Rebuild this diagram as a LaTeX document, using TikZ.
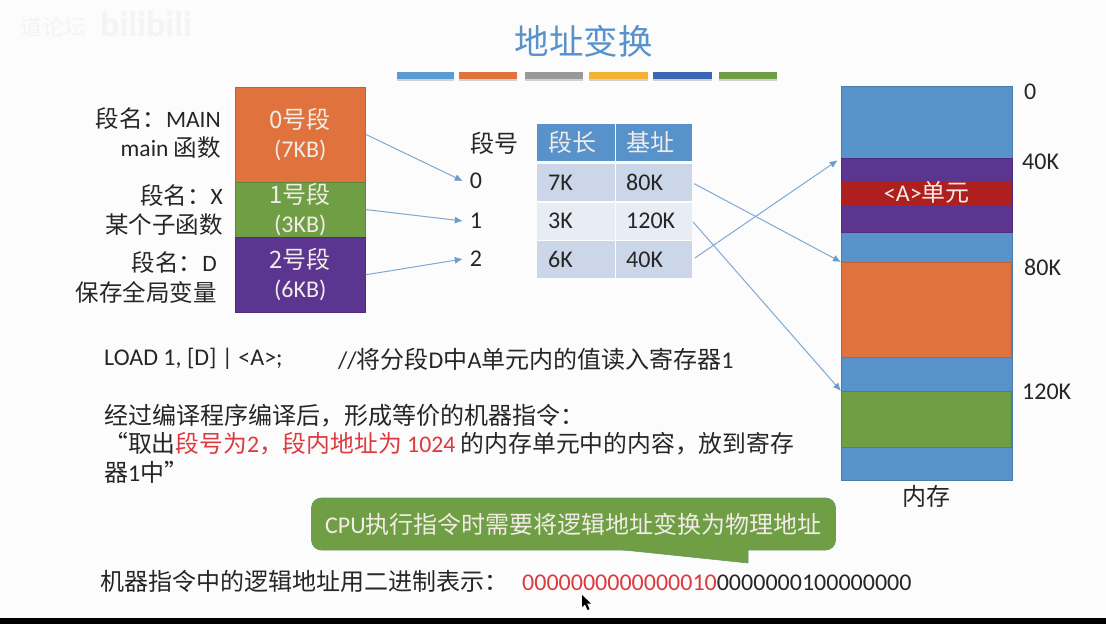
\documentclass[tikz,border=0pt]{standalone}
\usepackage{fontspec}
\setmainfont[Numbers=Lining]{Carlito}
\newfontfamily\cjk{Noto Sans CJK SC}
\newcommand\zh[1]{{\cjk #1}}
\definecolor{cblue}{HTML}{5792CA}
\definecolor{corange}{HTML}{E0733D}
\definecolor{cgreen}{HTML}{6F9E45}
\definecolor{cpurple}{HTML}{5C3590}
\definecolor{cred}{HTML}{AE1F1D}
\definecolor{ink}{HTML}{262626}
\definecolor{redink}{HTML}{DC3A3F}
\definecolor{pale}{HTML}{F2ECE8}
\definecolor{arrowc}{HTML}{7FA9D3}
\definecolor{rowa}{HTML}{CBD6E8}
\definecolor{rowb}{HTML}{E7ECF5}
\definecolor{wmark}{HTML}{F4F4F4}
\tikzset{
  txt/.style={inner sep=0pt,text=ink,font=\fontsize{24}{28}\selectfont},
  side/.style={inner sep=0pt,text=ink,anchor=east,font=\fontsize{23.5}{28}\selectfont},
  block/.style={rectangle,inner sep=0pt,draw=#1!85!black,line width=.6pt,fill=#1,text=pale,align=center,font=\fontsize{24}{29}\selectfont},
  cell/.style={rectangle,inner sep=0pt,fill=#1,text=ink,minimum height=37pt,text width=56pt,align=left,font=\fontsize{24}{28}\selectfont},
  conn/.style={draw=arrowc,line width=1pt,-{Latex[length=8pt,width=7pt,color=cblue!90]}},
}
\usetikzlibrary{arrows.meta}
\begin{document}
\begin{tikzpicture}[x=1pt,y=-1pt]
\useasboundingbox (0,0) rectangle (1106,624);
\fill[white!99!black] (0,0) rectangle (1106,624);
% watermark
\node[inner sep=0pt,anchor=east,text=wmark,font=\fontsize{22}{26}\cjk] (wm1) at (87,27) {道论坛};
\node[inner sep=0pt,anchor=west,text=wmark,font=\fontsize{36}{40}\selectfont\bfseries] (wm2) at (100,24) {bilibili};
% title and bars
\node[inner sep=0pt,text=cblue,font=\fontsize{34.5}{40}\cjk] (title) at (583.5,41) {地址变换};
\foreach \xa/\xb/\col in {397/454/5B9BD5,459/517/E0733D,525/583/999999,589/648/F5B335,653/712/3A66B4,719/777/6F9E45}{
  \fill[black!18] (\xa,73.5) rectangle (\xb,80.5);
  \definecolor{tmpc}{HTML}{\col}
  \fill[tmpc] (\xa,72) rectangle (\xb,79);
}
% segments
\node[block=corange,minimum width=130pt,minimum height=95pt,anchor=north west] (seg0) at (235,86.5) {\zh{0号段}\\(7KB)};
\node[block=cgreen,minimum width=130pt,minimum height=55.5pt,anchor=north west] (seg1) at (235,181.5) {\zh{1号段}\\(3KB)};
\node[block=cpurple,minimum width=130pt,minimum height=75pt,anchor=north west] (seg2) at (235,237) {\zh{2号段}\\(6KB)};
% segment labels
\node[side] (l0a) at (221,119) {\zh{段名：}MAIN};
\node[side] (l0b) at (221,148) {main \zh{函数}};
\node[side] (l1a) at (223,196) {\zh{段名：}X};
\node[side] (l1b) at (223,225) {\zh{某个子函数}};
\node[side] (l2a) at (217,263) {\zh{段名：}D};
\node[side] (l2b) at (217,292) {\zh{保存全局变量}};
% segment numbers
\node[txt,font=\fontsize{24}{28}\cjk] (hdr) at (494,143) {段号};
\node[txt,minimum width=26pt] (n0) at (476,181) {0};
\node[txt,minimum width=26pt] (n1) at (476,221) {1};
\node[txt,minimum width=26pt] (n2) at (476,259) {2};
% table
\node[cell=cblue,minimum width=78pt,anchor=north west,text=pale,font=\fontsize{24}{28}\cjk,minimum height=36.5pt] (h1) at (537,124) {段长};
\node[cell=cblue,minimum width=76pt,anchor=north west,text=pale,font=\fontsize{24}{28}\cjk,minimum height=36.5pt] (h2) at (616,124) {基址};
\node[cell=rowa,minimum width=78pt,anchor=north west] (c01) at (537,164) {7K};
\node[cell=rowa,minimum width=76pt,anchor=north west] (c02) at (616,164) {80K};
\node[cell=rowb,minimum width=78pt,anchor=north west] (c11) at (537,202.5) {3K};
\node[cell=rowb,minimum width=76pt,anchor=north west] (c12) at (616,202.5) {120K};
\node[cell=rowa,minimum width=78pt,anchor=north west] (c21) at (537,241) {6K};
\node[cell=rowa,minimum width=76pt,anchor=north west] (c22) at (616,241) {40K};
% memory
\node[block=cblue,minimum width=171pt,minimum height=394pt,anchor=north west] (mem) at (841,86) {};
\node[block=cpurple,minimum width=171pt,minimum height=74pt,anchor=north west] (mpur) at (841,158) {};
\node[block=cred,draw=none,minimum width=171pt,minimum height=24pt,anchor=north west] (munit) at (841,180.5) {<A>\zh{单元}};
\node[block=corange,minimum width=170pt,minimum height=95pt,anchor=north west] (mora) at (841,262) {};
\node[block=cgreen,minimum width=170pt,minimum height=55.5pt,anchor=north west] (mgre) at (841,391) {};
\node[txt] (ml) at (926,496) {\zh{内存}};
\node[txt,anchor=west] (a0) at (1024,92) {0};
\node[txt,anchor=west] (a40) at (1022,162) {40K};
\node[txt,anchor=west] (a80) at (1024,267) {80K};
\node[txt,anchor=west] (a120) at (1022,392) {120K};
% connectors
\draw[conn] (seg0.east) -- (n0.west);
\draw[conn] (seg1.east) -- (n1.west);
\draw[conn] (seg2.east) -- (n2.west);
\draw[conn,shorten <=2pt] (c02.east) -- (mora.north west);
\draw[conn,shorten <=1pt] (c12.east) -- (mgre.north west);
\draw[conn,shorten <=3pt,shorten >=4pt] (c22.east) -- (mpur.north west);
% body text
\node[txt,anchor=west] (t1) at (104,359) {LOAD 1, [D] | <A>;};
\node[txt,anchor=west] (t2) at (338,359) {//\zh{将分段}D\zh{中}A\zh{单元内的值读入寄存器}1};
\node[txt,anchor=west] (t3) at (104,416) {\zh{经过编译程序编译后，形成等价的机器指令：}};
\node[txt,anchor=west,font=\fontsize{23.8}{28}\selectfont] (t4) at (104,444) {\zh{“取出}\textcolor{redink}{\zh{段号为}2\zh{，段内地址为} 1024} \zh{的内存单元中的内容，放到寄存}};
\node[txt,anchor=west] (t5) at (104,472) {\zh{器}1\zh{中”}};
% callout
\coordinate (tipa) at (619,549.5);
\coordinate (tipb) at (748,563);
\coordinate (tipc) at (748,549.5);
\node[rectangle,rounded corners=10pt,fill=cgreen,draw=cgreen!75!cblue,line width=.8pt,minimum width=524pt,minimum height=52pt,inner sep=0pt,text=pale,font=\fontsize{24}{28}\selectfont] (callout) at (573.5,524) {CPU\zh{执行指令时需要将逻辑地址变换为物理地址}\hspace{7pt}};
\fill[cgreen] (tipa) -- (tipb) -- (tipc) -- cycle;
\draw[cgreen!75!cblue,line width=.6pt] (tipa) -- (tipb) -- (tipc);
% bottom line
\node[txt,anchor=west] (b1) at (100,581) {\zh{机器指令中的逻辑地址用二进制表示：}};
\node[txt,anchor=west] (b2) at (522,583) {\textcolor{redink}{0000000000000010}0000000100000000};
% cursor
\fill[black] (582,595) -- (582,607) -- (585,604.5) -- (587.5,610) -- (589.5,609) -- (587,603.5) -- (591,603.5) -- cycle;
% bottom strip
\fill[black] (0,618) rectangle (1106,624);
\end{tikzpicture}
\end{document}
